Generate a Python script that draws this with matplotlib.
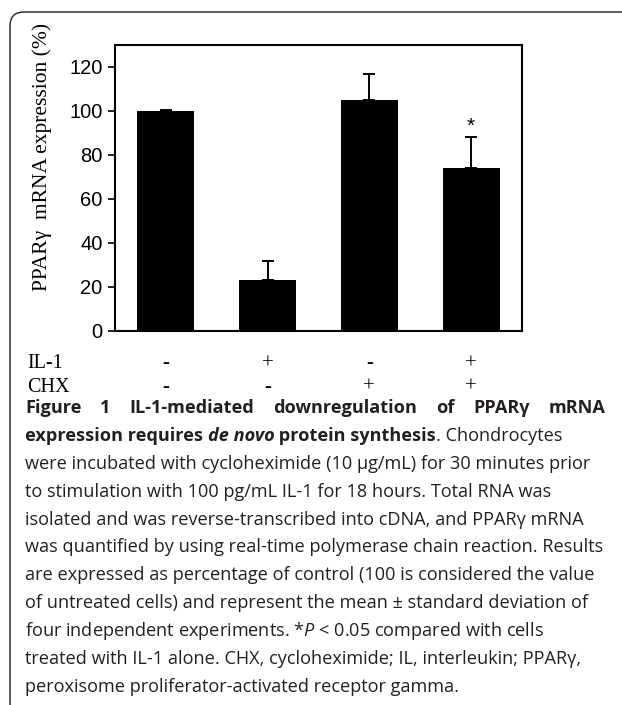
import matplotlib
matplotlib.use("Agg")
import matplotlib.pyplot as plt
from matplotlib.patches import FancyBboxPatch
from matplotlib.transforms import IdentityTransform

plt.rcParams["mathtext.fontset"] = "custom"
plt.rcParams["mathtext.rm"] = "Open Sans"
plt.rcParams["mathtext.it"] = "Open Sans:italic"

# data
groups = ["ctrl", "IL-1", "CHX", "IL-1+CHX"]
means = [100, 23, 105, 74]
sd = [0.5, 9, 12, 14]
il1_signs = ["-", "+", "-", "+"]
chx_signs = ["-", "-", "+", "+"]
star_group = 3

W, H = 622, 705
fig = plt.figure(figsize=(W / 100, H / 100), dpi=100)

# rounded frame of the figure panel
frame = FancyBboxPatch((10, -40), 700, H - 12 + 40,
                       boxstyle="round,pad=0,rounding_size=14",
                       transform=IdentityTransform(), fill=False,
                       edgecolor="#333333", linewidth=1.1)
fig.patches.append(frame)

ax = fig.add_axes([115 / W, 1 - 331 / H, 407 / W, 286 / H])
x = list(range(len(means)))
ax.bar(x, means, width=0.56, color="black", zorder=2)
ax.errorbar(x, means, yerr=[[0] * len(sd), sd], fmt="none", ecolor="black",
            elinewidth=1.4, capsize=4.5, capthick=1.4, zorder=1)
ax.text(x[star_group], means[star_group] + sd[star_group] + 0.8, "*",
        ha="center", va="bottom", fontsize=15, family="Liberation Sans")

ax.set_xlim(-0.5, 3.5)
ax.set_ylim(0, 130)
ax.set_yticks(range(0, 121, 20))
ax.set_xticks([])
for s in ax.spines.values():
    s.set_linewidth(1.5)
ax.tick_params(axis="y", direction="out", length=5, width=1.2, pad=4,
               labelsize=14.5)
for lab in ax.get_yticklabels():
    lab.set_family("Liberation Sans")
fig.text(42 / W, 1 - 157 / H, "PPAR\u03b3  mRNA expression (%)",
         family="Liberation Serif", fontsize=15.5, rotation=90,
         ha="center", va="center")

# treatment rows below the axis
for row_y, name, signs in [(364, "IL-1", il1_signs), (387, "CHX", chx_signs)]:
    fig.text(27 / W, 1 - row_y / H, name, family="Liberation Serif",
             fontsize=14.5, va="center", ha="left")
    for xi, s in zip(x, signs):
        px = ax.transData.transform((xi, 0))[0]
        fig.text(px / W, 1 - row_y / H, s, family="Liberation Serif",
                 fontsize=15, va="center", ha="center")

# caption
cap_font = "Open Sans"
cap_size = 13.1
lines = [
    [("Figure 1 IL-1-mediated downregulation of PPAR\u03b3 mRNA", "bold", "normal")],
    [("expression requires ", "bold", "normal"), ("de novo", "bold", "italic"),
     (" protein synthesis", "bold", "normal"), (". Chondrocytes", "normal", "normal")],
    [("were incubated with cycloheximide (10 \u03bcg/mL) for 30 minutes prior", "normal", "normal")],
    [("to stimulation with 100 pg/mL IL-1 for 18 hours. Total RNA was", "normal", "normal")],
    [("isolated and was reverse-transcribed into cDNA, and PPAR\u03b3 mRNA", "normal", "normal")],
    [("was quantified by using real-time polymerase chain reaction. Results", "normal", "normal")],
    [("are expressed as percentage of control (100 is considered the value", "normal", "normal")],
    [("of untreated cells) and represent the mean \u00b1 standard deviation of", "normal", "normal")],
    [("four independent experiments. *$P$ < 0.05 compared with cells", "normal", "normal")],
    [("treated with IL-1 alone. CHX, cycloheximide; IL, interleukin; PPAR\u03b3,", "normal", "normal")],
    [("peroxisome proliferator-activated receptor gamma.", "normal", "normal")],
]
x0, x1 = 25, 606
y_first, dy = 408, 27.9
renderer = fig.canvas.get_renderer()
for i, segs in enumerate(lines):
    yy = 1 - (y_first + i * dy) / H
    if i == 0:
        # justified title line: spread the words over the full width
        words = segs[0][0].split(" ")
        ts = [fig.text(0, yy, w_, family=cap_font, fontsize=cap_size,
                       weight="bold", va="center", color="#231f20") for w_ in words]
        widths = [t.get_window_extent(renderer).width for t in ts]
        gap = (x1 - x0 - sum(widths)) / (len(words) - 1)
        cx = x0
        for t, wd in zip(ts, widths):
            t.set_x(cx / W)
            cx += wd + gap
        continue
    cx = x0
    for txt, wgt, sty in segs:
        t = fig.text(cx / W, yy, txt, family=cap_font, fontsize=cap_size,
                     weight=wgt, style=sty, va="center", color="#231f20")
        cx += t.get_window_extent(renderer).width

fig.savefig("out.png", dpi=100)
